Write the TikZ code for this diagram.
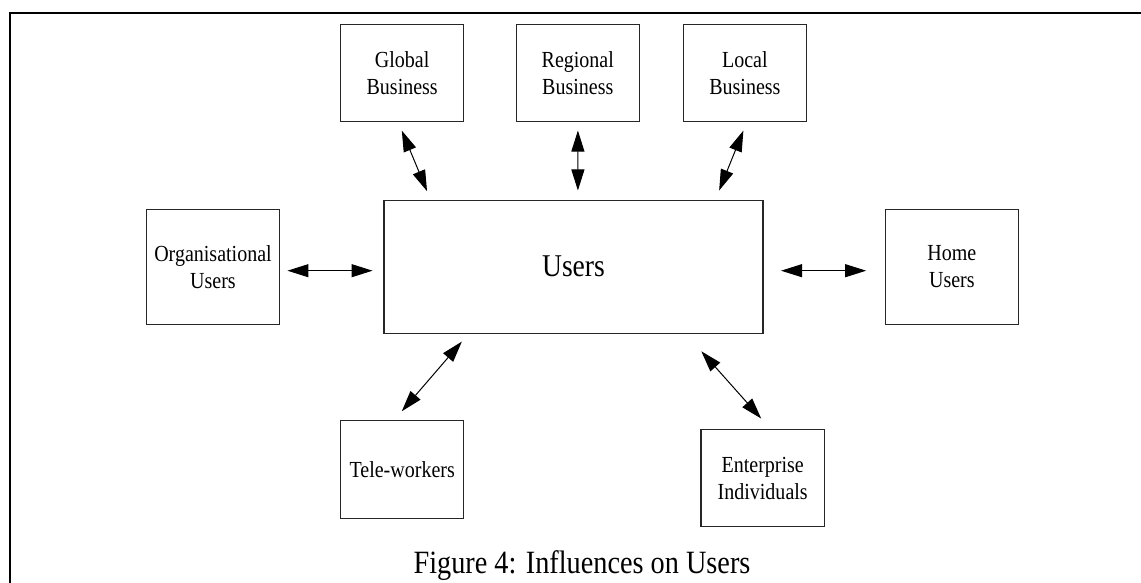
\documentclass[tikz,border=0pt]{standalone}
\usepackage{fontspec}
\setmainfont[FakeStretch=0.87]{Liberation Serif}
\usetikzlibrary{arrows.meta,calc}
\tikzset{
  infbox/.style={draw=black!85, line width=1.1pt, rectangle, align=center,
    font=\fontsize{23}{27}\selectfont, inner sep=0pt},
  smallbox/.style={infbox, minimum width=123.4pt, minimum height=97.4pt},
  widebox/.style={infbox, minimum width=132.6pt, minimum height=114.7pt},
  link/.style={line width=1pt, {Triangle[length=21pt,width=13pt]}-{Triangle[length=21pt,width=13pt]}},
  frameline/.style={line width=2.2pt}
}
\begin{document}
\begin{tikzpicture}[x=1pt, y=-1pt]
  \useasboundingbox (0,0) rectangle (1141,583);
  % open frame: top rule and left rule
  \draw[frameline] (10,600) -- (10,12.7) -- (1150,12.7);

  % central box
  \node[draw=black!85, line width=1.1pt, minimum width=379pt, minimum height=132.7pt,
        font=\fontsize{31.7}{36}\selectfont] (users) at (573.5,266.7) {Users};

  % surrounding influences
  \node[smallbox] (global)   at (402.2,73)    {Global\\Business};
  \node[smallbox] (regional) at (577.8,73)    {Regional\\Business};
  \node[smallbox] (local)    at (744.9,73)    {Local\\Business};
  \node[widebox]  (org)      at (213,266.7)   {Organisational\\Users};
  \node[widebox]  (home)     at (951.9,266.7) {Home\\Users};
  \node[smallbox] (tele)     at (402.2,469.5) {Tele-workers};
  \node[smallbox] (ent)      at (762.7,478.2) {Enterprise\\Individuals};

  % arrow end points, kept clear of the boxes
  \coordinate (g1) at ($(global.south)+(-0.4,8.3)$);
  \coordinate (g2) at ($(users.north west)+(43.6,-8.6)$);
  \coordinate (r1) at ($(regional.south)+(0.1,8.3)$);
  \coordinate (r2) at ($(users.north)+(4.4,-9.3)$);
  \coordinate (l1) at ($(local.south)+(-1.5,8.3)$);
  \coordinate (l2) at ($(users.north east)+(-44.4,-9.3)$);
  \coordinate (o1) at ($(org.east)+(7.6,4)$);
  \coordinate (o2) at ($(users.west)+(-10.9,4)$);
  \coordinate (h1) at ($(users.east)+(17.5,4)$);
  \coordinate (h2) at ($(home.west)+(-18.9,4)$);
  \coordinate (t1) at ($(users.south west)+(78.4,8)$);
  \coordinate (t2) at ($(tele.north)+(-0.4,-9)$);
  \coordinate (e1) at ($(users.south east)+(-62.2,17.7)$);
  \coordinate (e2) at ($(ent.north)+(-1.5,-10.4)$);

  \draw[link] (g1) -- (g2);
  \draw[link] (r1) -- (r2);
  \draw[link] (l1) -- (l2);
  \draw[link] (o1) -- (o2);
  \draw[link] (h1) -- (h2);
  \draw[link] (t1) -- (t2);
  \draw[link] (e1) -- (e2);

  % caption
  \node[anchor=base, font=\fontsize{32.5}{36}\selectfont, inner sep=0pt] (cap) at (582,573)
    {Figure 4: Influences on Users};
\end{tikzpicture}
\end{document}
